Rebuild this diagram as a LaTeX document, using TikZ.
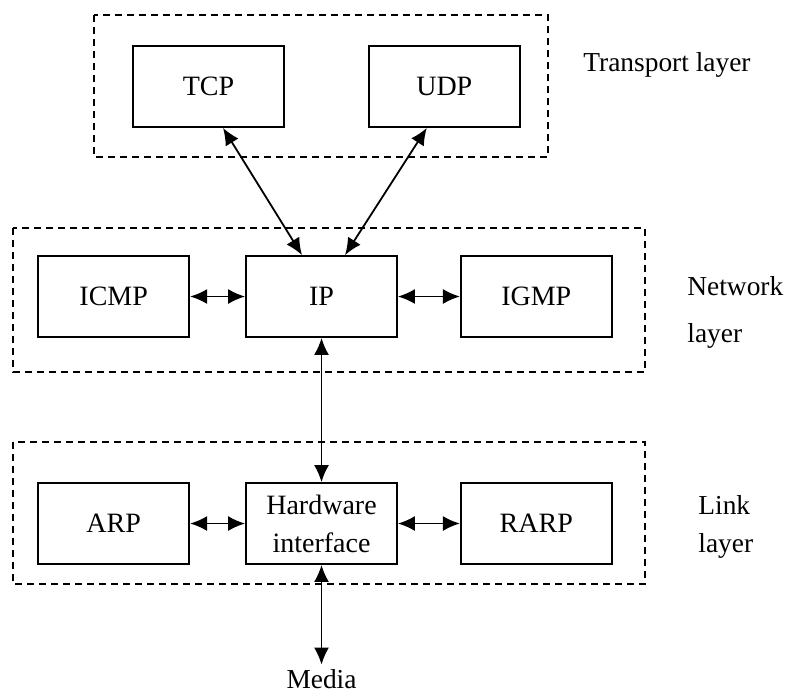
\documentclass[tikz,border=0pt]{standalone}
\usepackage{fontspec}
\setmainfont{Liberation Serif}
\usetikzlibrary{arrows.meta,positioning}

\tikzset{
  proto/.style={draw, line width=0.9pt, minimum width=75.5pt, minimum height=40.5pt,
    inner sep=0pt, align=center, font=\fontsize{14}{19}\selectfont},
  layerbox/.style={draw, line width=0.9pt, dash pattern=on 3.5pt off 2.5pt},
  layername/.style={align=left, anchor=west, inner sep=0pt, font=\fontsize{13.7}{21}\selectfont},
  biarrow/.style={{Latex[length=8.5pt,width=7.5pt]}-{Latex[length=8.5pt,width=7.5pt]}, line width=0.9pt}
}

\begin{document}
\begin{tikzpicture}[x=0.5pt, y=-0.5pt]
        \useasboundingbox (0,0) rectangle (786,693);

        % Transport layer
        \draw[layerbox] (94,15) rectangle (548,157);
        \node[proto] (tcp) at (208.5,86.5) {TCP};
        \node[proto, right=41.5pt of tcp] (udp) {UDP};
        \node[layername] (translbl) at (583,65) {Transport layer};

        % Network layer
        \draw[layerbox] (13,228) rectangle (645,372);
        \node[proto] (ip) at (321.5,296.5) {IP};
        \node[proto, left=27.5pt of ip] (icmp) {ICMP};
        \node[proto, right=31pt of ip] (igmp) {IGMP};
        \node[layername, font=\fontsize{13.7}{23.5}\selectfont] (netlbl) at (687,312) {Network\\layer};

        % Link layer
        \draw[layerbox] (13,442) rectangle (645,584);
        \node[proto] (hw) at (321.5,523.5) {Hardware\\interface};
        \node[proto, left=27.5pt of hw] (arp) {ARP};
        \node[proto, right=31pt of hw] (rarp) {RARP};
        \node[layername, font=\fontsize{13.7}{19}\selectfont] (linklbl) at (698,527) {Link\\layer};

        \node[inner sep=2pt, anchor=base, font=\fontsize{13.7}{16}\selectfont] (media) at (321.5,688) {Media};

        % Arrows
        \draw[biarrow] ([xshift=7.25pt]tcp.south) -- ([xshift=-9.75pt]ip.north);
        \draw[biarrow] ([xshift=-8.75pt]udp.south) -- ([xshift=11.75pt]ip.north);

        \draw[biarrow] (icmp) -- (ip);
        \draw[biarrow] (ip) -- (igmp);
        \draw[biarrow] (ip) -- (hw);

        \draw[biarrow] (arp) -- (hw);
        \draw[biarrow] (hw) -- (rarp);
        \draw[biarrow] (hw) -- (media);
    \end{tikzpicture}
\end{document}
